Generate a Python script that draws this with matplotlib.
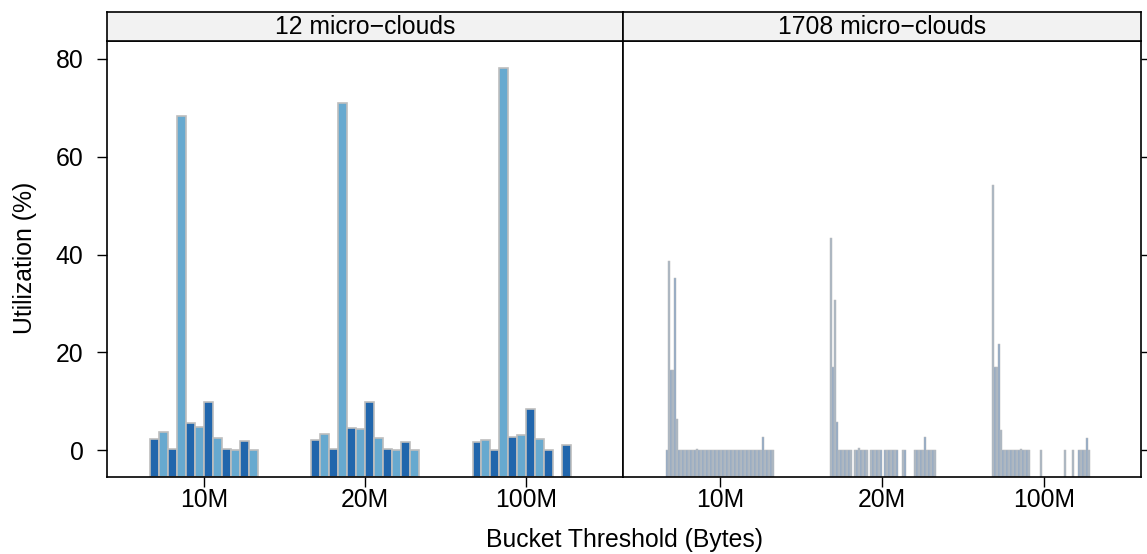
import numpy as np
import matplotlib
matplotlib.use("Agg")
import matplotlib.pyplot as plt

N = np.nan

thresholds = ["10M", "20M", "100M"]
panel_titles = ["12 micro\u2212clouds", "1708 micro\u2212clouds"]

# 12 micro-clouds: utilization per cloud, for each bucket threshold
small_10M = [2.25, 3.75, 0.35, 68.3, 5.6, 4.8, 9.9, 2.5, 0.2, 0.0, 1.9, 0.1]
small_20M = [2.0, 3.3, 0.2, 70.9, 4.6, 4.3, 9.9, 2.4, 0.3, 0.0, 1.7, 0.1]
small_100M = [1.6, 2.0, 0.0, 78.2, 2.7, 3.1, 8.4, 2.25, 0.1, N, 1.0, N]

large_10M = [0, 38.7, 16.4, 16.4, 35.3, 6.3, 0, 0, 0, 0,
             0, 0, 0, 0, 0, 0.3, 0, 0, 0, 0,
             0, 0, 0, 0, 0, 0, 0, 0, 0, 0,
             0, 0, 0, 0, 0, 0, 0, 0, 0, 0,
             0, 0, 0, 0, 0, 0, 0, 0, 2.7, 0,
             0, 0, 0, 0]
large_20M = [N, 43.3, 17.0, 30.8, 5.8, 0, 0, 0, 0, 0,
             0, 0, N, 0, 0, 0.4, 0, 0, 0, 0,
             N, 0, 0, 0, 0, 0, 0, N, 0, 0,
             0, 0, 0, 0, 0, N, N, 0, 0, N,
             N, N, N, 0, 0, 0, 0, 0, 2.7, 0,
             0, 0, 0, 0]
large_100M = [N, 54.2, 17.0, 17.0, 21.8, 4.2, 0, 0, 0, 0,
              0, 0, 0, 0, 0, 0.3, 0, 0, 0, 0,
              N, N, N, N, N, 0, N, N, N, N,
              N, N, N, N, N, N, N, 0, N, N,
              N, 0, N, N, 0, 0, 0, 0, 2.5, 0,
              N, N, N, N]

panels = [
    [small_10M, small_20M, small_100M],
    [large_10M, large_20M, large_100M],
]

plt.rcParams["font.family"] = ["Liberation Sans", "DejaVu Sans"]
FS = 17.8

W, H = 1147, 554
fig = plt.figure(figsize=(W / 100, H / 100), dpi=100)

all_vals = np.array([v for p in panels for g in p for v in g], dtype=float)
vmin, vmax = np.nanmin(all_vals), np.nanmax(all_vals)
pad = 0.07 * (vmax - vmin)
ylo, yhi = vmin - pad, vmax + pad

x0s = [107, 623]
x1s = [623, 1141]
ybot, ytop, ystrip = 477, 41, 12

group_w = 2 / 3
for k, groups in enumerate(panels):
    ax = fig.add_axes([x0s[k] / W, (H - ybot) / H, (x1s[k] - x0s[k]) / W, (ybot - ytop) / H])
    for g, vals in enumerate(groups):
        vals = np.array(vals, dtype=float)
        n = len(vals)
        bw = group_w / n
        xs = (g + 1) - group_w / 2 + (np.arange(n) + 0.5) * bw
        ok = ~np.isnan(vals)
        if k == 0:
            fills = np.where(np.arange(n) % 2 == 0, "#2166AC", "#67A9CF")
            ax.bar(xs[ok], vals[ok] - ylo, bottom=ylo, width=bw, color=fills[ok],
                   edgecolor="#BEBEBE", linewidth=1.2)
        else:
            fills = np.where(np.arange(n) % 2 == 0, "#8FA9C6", "#A9B6C3")
            ax.bar(xs[ok], vals[ok] - ylo, bottom=ylo, width=bw, color=fills[ok],
                   edgecolor="#BDBDBD", linewidth=0.35)
    ax.set_xlim(0.4, 3.6)
    ax.set_ylim(ylo, yhi)
    ax.set_xticks([1, 2, 3])
    ax.set_xticklabels(thresholds, fontsize=FS)
    ax.set_yticks([0, 20, 40, 60, 80])
    ax.tick_params(axis="both", direction="out", length=7, width=1, labelsize=FS)
    ax.tick_params(axis="x", pad=1)
    ax.tick_params(axis="y", pad=10)
    if k == 0:
        ax.tick_params(axis="y", left=True, right=False, labelleft=True)
    else:
        ax.tick_params(axis="y", left=False, right=True, labelleft=False, labelright=False)
    for sp in ax.spines.values():
        sp.set_linewidth(1.2)

    sax = fig.add_axes([x0s[k] / W, (H - ytop) / H, (x1s[k] - x0s[k]) / W, (ytop - ystrip) / H])
    sax.set_facecolor("#F2F2F2")
    sax.set_xticks([])
    sax.set_yticks([])
    for sp in sax.spines.values():
        sp.set_linewidth(1.2)
    sax.text(0.5, 0.5, panel_titles[k], ha="center", va="center", fontsize=FS,
             transform=sax.transAxes)

fig.text(25 / W, (H - 258) / H, "Utilization (%)", rotation=90, ha="center", va="center",
         fontsize=FS)
fig.text(624 / W, (H - 540) / H, "Bucket Threshold (Bytes)", ha="center", va="center",
         fontsize=FS)

fig.savefig("out.png", dpi=100)
